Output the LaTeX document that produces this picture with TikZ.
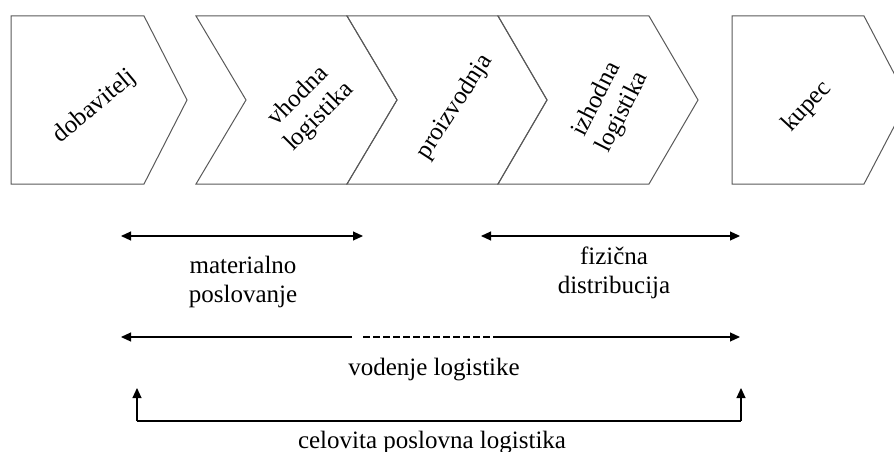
\documentclass[tikz,border=0pt]{standalone}
\usepackage{fontspec}
\setmainfont{Liberation Serif}
\usetikzlibrary{arrows.meta}
\begin{document}
\begin{tikzpicture}[x=1pt,y=-1pt,
  chev/.style={draw=black!65,line width=1pt,line join=miter},
  lbl/.style={font=\fontsize{25}{29}\selectfont,align=center,inner sep=0pt},
  span/.style={line width=1.1pt,black},
  tip/.style={-{Triangle[length=10pt,width=9pt]}},
  bothtips/.style={{Triangle[length=10pt,width=9pt]}-{Triangle[length=10pt,width=9pt]}}]
\useasboundingbox (0,0) rectangle (894,452);
\begin{scope}
\clip (0,0) rectangle (894,452);
% process chain
\draw[chev] (11,16) -- (144,16) -- (187,100) -- (144,184) -- (11,184) -- cycle;
\draw[chev] (196,16) -- (347,16) -- (397,100) -- (347,184) -- (196,184) -- (246,100) -- cycle;
\draw[chev] (347,16) -- (498,16) -- (547,100) -- (498,184) -- (347,184) -- (397,100) -- cycle;
\draw[chev] (498,16) -- (649,16) -- (698,100) -- (649,184) -- (498,184) -- (547,100) -- cycle;
\draw[chev] (732,16) -- (864,16) -- (908,100) -- (864,184) -- (732,184) -- cycle;
\end{scope}
\node[lbl,rotate=40] (dob) at (95,107) {dobavitelj};
\node[lbl,rotate=45] (vho) at (309,107) {vhodna\\logistika};
\node[lbl,rotate=57] (pro) at (455,107) {proizvodnja};
\node[lbl,rotate=63] (izh) at (610,106) {izhodna\\logistika};
\node[lbl,rotate=47] (kup) at (807,107) {kupec};
% spans
\coordinate (m1) at (121,236);
\coordinate (m2) at (363,236);
\coordinate (f1) at (481,236);
\coordinate (f2) at (740,236);
\draw[span,bothtips] (m1) -- (m2);
\draw[span,bothtips] (f1) -- (f2);
\node[lbl] (mat) at (243,282) {materialno\\poslovanje};
\node[lbl] (fiz) at (614,273) {fizična\\distribucija};
% management of logistics
\coordinate (v1) at (121,337);
\coordinate (v2) at (352,337);
\coordinate (v3) at (363,337);
\coordinate (v4) at (497,337);
\coordinate (v5) at (740,337);
\draw[span,tip] (v2) -- (v1);
\draw[span,dash pattern=on 7pt off 3pt] (v3) -- (v4);
\draw[span,tip] (v4) -- (v5);
\node[lbl,anchor=base] (vod) at (434,375) {vodenje logistike};
% integrated logistics
\coordinate (c1) at (137,388);
\coordinate (c2) at (137,421);
\coordinate (c3) at (741,421);
\coordinate (c4) at (741,388);
\draw[span,tip] (c2) -- (c1);
\draw[span] (c2) -- (c3);
\draw[span,tip] (c3) -- (c4);
\node[lbl,anchor=base] (cel) at (432,448) {celovita poslovna logistika};
\end{tikzpicture}
\end{document}
